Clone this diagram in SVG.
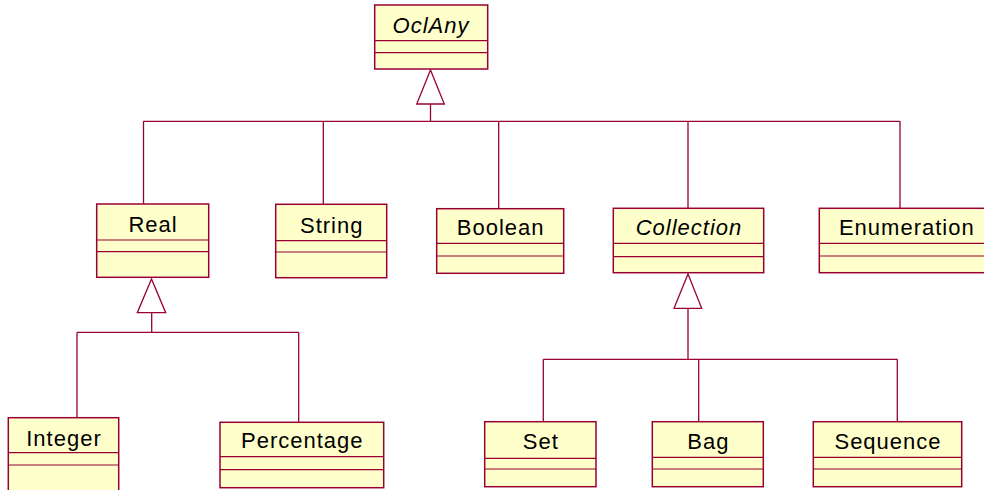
<svg xmlns="http://www.w3.org/2000/svg" width="984" height="490" viewBox="0 0 984 490">
<style>
.box{fill:#ffffcc;stroke:#990033;stroke-width:1.5}
.div{stroke:#990033;stroke-width:1.2}
.lbl{font-family:"Liberation Sans",Arial,sans-serif;font-size:22px;letter-spacing:1px;fill:#000;text-anchor:middle}
.it{font-style:italic}
.con{fill:none;stroke:#990033;stroke-width:1.3}
.tri{fill:#fff;stroke:#990033;stroke-width:1.3}
</style>
<rect width="984" height="490" fill="#fff"/>
<g id="connectors">
<path class="con" d="M430.5 104 V121.3 M143.5 121.3 H900 M143.5 121.3 V204 M323.3 121.3 V204.3 M498.7 121.3 V208.7 M688 121.3 V208.3 M900 121.3 V208.3"/>
<polygon class="tri" points="430.5,70 416.7,104 444.3,104"/>
<path class="con" d="M151.7 312.7 V332.3 M77 332.3 H298.7 M77 332.3 V417.7 M298.7 332.3 V422.3"/>
<polygon class="tri" points="151.5,279 137.3,312.7 165.7,312.7"/>
<path class="con" d="M688 308.3 V359.3 M543.3 359.3 H897.3 M543.3 359.3 V421.7 M698.7 359.3 V421.7 M897.3 359.3 V421.7"/>
<polygon class="tri" points="688,274 674,308.3 701.7,308.3"/>
</g>
<g id="OclAny">
<rect class="box" x="374.7" y="5" width="113" height="64"/>
<path class="div" d="M374.7 40.7 H487.7 M374.7 52.7 H487.7"/>
<text class="lbl it" x="431" y="33">OclAny</text>
</g>
<g id="Real">
<rect class="box" x="96.7" y="204" width="112" height="73.3"/>
<path class="div" d="M96.7 240 H208.7 M96.7 251.7 H208.7"/>
<text class="lbl" x="153" y="231.7">Real</text>
</g>
<g id="String">
<rect class="box" x="275.7" y="204.3" width="111" height="73.4"/>
<path class="div" d="M275.7 240.7 H386.7 M275.7 252 H386.7"/>
<text class="lbl" x="331.7" y="232.5">String</text>
</g>
<g id="Boolean">
<rect class="box" x="436.7" y="208.7" width="127" height="64.6"/>
<path class="div" d="M436.7 243.3 H563.7 M436.7 256 H563.7"/>
<text class="lbl" x="500.7" y="235.3">Boolean</text>
</g>
<g id="Collection">
<rect class="box" x="613.3" y="208.3" width="150.4" height="64.4"/>
<path class="div" d="M613.3 243.3 H763.7 M613.3 256.7 H763.7"/>
<text class="lbl it" x="689" y="235">Collection</text>
</g>
<g id="Enumeration">
<rect class="box" x="819.3" y="208.3" width="174" height="64.4"/>
<path class="div" d="M819.3 243.3 H993.3 M819.3 256 H993.3"/>
<text class="lbl" x="906.8" y="235">Enumeration</text>
</g>
<g id="Integer">
<rect class="box" x="8.3" y="417.7" width="110.4" height="80"/>
<path class="div" d="M8.3 452.7 H118.7 M8.3 465 H118.7"/>
<text class="lbl" x="64" y="445.7">Integer</text>
</g>
<g id="Percentage">
<rect class="box" x="220" y="422.3" width="163.7" height="65.4"/>
<path class="div" d="M220 456.7 H383.7 M220 469.7 H383.7"/>
<text class="lbl" x="302.3" y="448.3">Percentage</text>
</g>
<g id="Set">
<rect class="box" x="484.7" y="421.7" width="111.3" height="65"/>
<path class="div" d="M484.7 458.3 H596 M484.7 469 H596"/>
<text class="lbl" x="540.8" y="449.3">Set</text>
</g>
<g id="Bag">
<rect class="box" x="652.3" y="421.7" width="111" height="65"/>
<path class="div" d="M652.3 457.3 H763.3 M652.3 469 H763.3"/>
<text class="lbl" x="708.3" y="449.3">Bag</text>
</g>
<g id="Sequence">
<rect class="box" x="813.3" y="421.7" width="148.4" height="65"/>
<path class="div" d="M813.3 457.3 H961.7 M813.3 469 H961.7"/>
<text class="lbl" x="888" y="449.3">Sequence</text>
</g>
</svg>
